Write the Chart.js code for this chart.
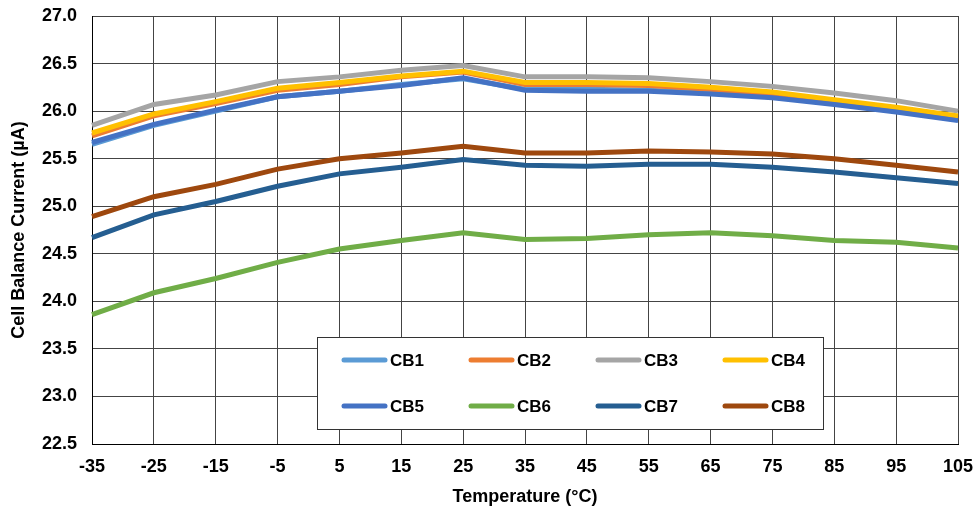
<!DOCTYPE html>
<html>
<head>
<meta charset="utf-8">
<script src="https://cdn.jsdelivr.net/npm/chart.js@4/dist/chart.umd.min.js"></script>
<style>
  html, body { margin: 0; padding: 0; background: #fff; }
  #wrap { width: 976px; height: 510px; }
</style>
</head>
<body>
<div id="wrap"><canvas id="chart" width="976" height="510"></canvas></div>
<script>
const temps = ["-35", "-25", "-15", "-5", "5", "15", "25", "35", "45", "55", "65", "75", "85", "95", "105"];

const cb1 = [25.65, 25.85, 26.0, 26.15, 26.21, 26.28, 26.34, 26.23, 26.23, 26.22, 26.19, 26.15, 26.08, 26.0, 25.91];
const cb2 = [25.74, 25.95, 26.08, 26.22, 26.28, 26.36, 26.41, 26.28, 26.28, 26.27, 26.23, 26.18, 26.1, 26.02, 25.93];
const cb3 = [25.85, 26.07, 26.17, 26.31, 26.36, 26.43, 26.48, 26.36, 26.36, 26.35, 26.31, 26.26, 26.19, 26.11, 26.0];
const cb4 = [25.77, 25.97, 26.1, 26.24, 26.3, 26.37, 26.42, 26.3, 26.3, 26.29, 26.25, 26.2, 26.12, 26.04, 25.95];
const cb5 = [25.67, 25.86, 26.01, 26.15, 26.21, 26.27, 26.35, 26.22, 26.21, 26.21, 26.18, 26.14, 26.07, 25.99, 25.9];
const cb6 = [23.86, 24.09, 24.24, 24.41, 24.55, 24.64, 24.72, 24.65, 24.66, 24.7, 24.72, 24.69, 24.64, 24.62, 24.56];
const cb7 = [24.67, 24.91, 25.05, 25.21, 25.34, 25.41, 25.49, 25.43, 25.42, 25.44, 25.44, 25.41, 25.36, 25.3, 25.24];
const cb8 = [24.89, 25.1, 25.23, 25.39, 25.5, 25.56, 25.63, 25.56, 25.56, 25.58, 25.57, 25.55, 25.5, 25.43, 25.36];

const seriesNames = ["CB1", "CB2", "CB3", "CB4", "CB5", "CB6", "CB7", "CB8"];
const seriesData = [cb1, cb2, cb3, cb4, cb5, cb6, cb7, cb8];
const seriesColors = ["#5B9BD5", "#ED7D31", "#A5A5A5", "#FFC000", "#4472C4", "#70AD47", "#255E91", "#9E480E"];

const FONT = "'Liberation Sans', Arial, sans-serif";

// legend drawn as a boxed 4x2 grid inside the plot area
const boxLegend = {
  id: "boxLegend",
  afterDatasetsDraw(chart) {
    const { ctx, chartArea } = chart;
    const x0 = chartArea.left + 225;
    const y0 = chartArea.top + 321;
    const w = 506;
    const h = 92;
    ctx.save();
    ctx.fillStyle = "#fff";
    ctx.fillRect(x0, y0, w, h);
    ctx.strokeStyle = "#333";
    ctx.lineWidth = 1;
    ctx.strokeRect(x0 + 0.5, y0 + 0.5, w, h);
    ctx.font = "bold 17px " + FONT;
    ctx.textBaseline = "middle";
    ctx.lineCap = "round";
    chart.data.datasets.forEach((ds, i) => {
      const col = i % 4;
      const row = Math.floor(i / 4);
      const lx = x0 + 27 + col * 127;
      const ly = y0 + 23 + row * 46;
      ctx.strokeStyle = ds.borderColor;
      ctx.lineWidth = 5;
      ctx.beginPath();
      ctx.moveTo(lx, ly);
      ctx.lineTo(lx + 41, ly);
      ctx.stroke();
      ctx.fillStyle = "#000";
      ctx.fillText(ds.label, lx + 46, ly + 1);
    });
    ctx.restore();
  },
};

new Chart(document.getElementById("chart"), {
  type: "line",
  data: {
    labels: temps,
    datasets: seriesNames.map((name, i) => ({
      label: name,
      data: seriesData[i],
      borderColor: seriesColors[i],
      backgroundColor: seriesColors[i],
      borderWidth: 5,
      pointRadius: 0,
      tension: 0,
      order: seriesNames.length - i,
    })),
  },
  options: {
    responsive: false,
    animation: false,
    layout: { padding: { top: 16, right: 18, left: 0, bottom: 0 } },
    plugins: {
      legend: { display: false },
      tooltip: { enabled: false },
    },
    scales: {
      x: {
        type: "category",
        offset: false,
        grid: { color: "#444", lineWidth: 1, drawTicks: false, offset: false },
        border: { color: "#000", width: 1 },
        ticks: {
          color: "#000",
          font: { family: FONT, size: 18, weight: "bold" },
          padding: 12,
          maxRotation: 0,
          autoSkip: false,
        },
        title: {
          display: true,
          text: "Temperature (°C)",
          color: "#000",
          font: { family: FONT, size: 18, weight: "bold" },
          padding: { top: 8, bottom: 2 },
        },
        afterFit(scale) {
          scale.height = 66;
          scale.paddingLeft = 0;
          scale.paddingRight = 0;
        },
      },
      y: {
        min: 22.5,
        max: 27,
        grid: { color: "#444", lineWidth: 1, drawTicks: false },
        border: { color: "#000", width: 1 },
        ticks: {
          stepSize: 0.5,
          color: "#000",
          font: { family: FONT, size: 18, weight: "bold" },
          padding: 15,
          callback: (v) => Number(v).toFixed(1),
        },
        title: {
          display: true,
          text: "Cell Balance Current (µA)",
          color: "#000",
          font: { family: FONT, size: 18, weight: "bold" },
          padding: { top: 8, bottom: 0 },
        },
        afterFit(scale) {
          scale.width = 92;
          scale.paddingTop = 0;
          scale.paddingBottom = 0;
        },
      },
    },
  },
  plugins: [boxLegend],
});
</script>
</body>
</html>
